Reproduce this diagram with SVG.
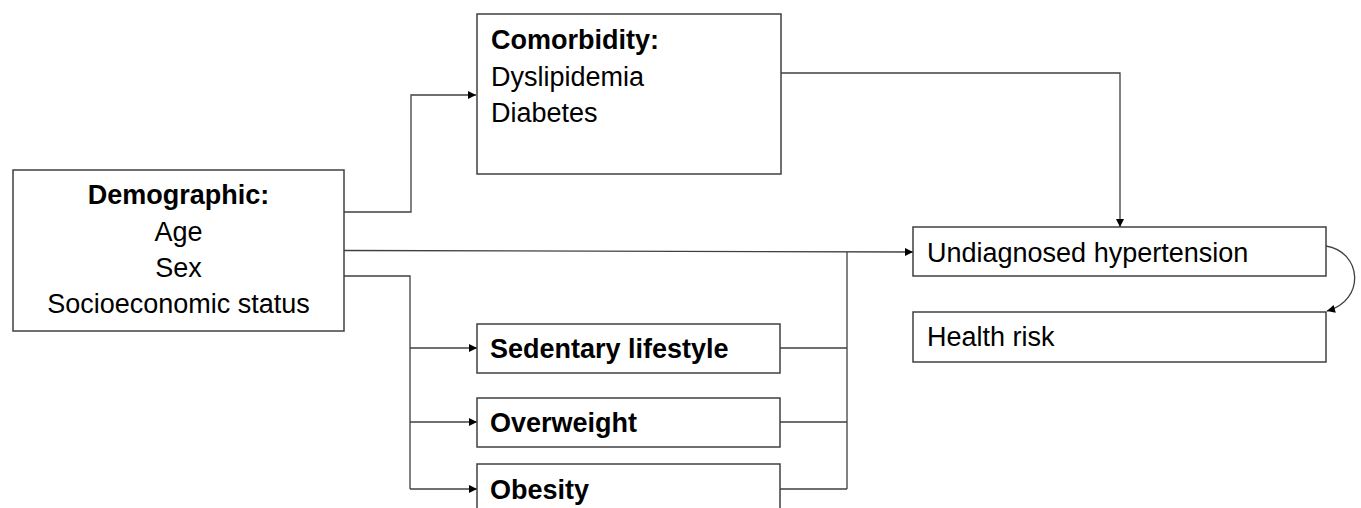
<svg xmlns="http://www.w3.org/2000/svg" width="1361" height="508" viewBox="0 0 1361 508">
<style>
.box{fill:#fff;stroke:#404040;stroke-width:1.5}
.t{font-family:"Liberation Sans",Arial,sans-serif;font-size:27px;fill:#000}
.b{font-weight:bold}
.c{fill:none;stroke:#404040;stroke-width:1.3}
</style>
<defs>
<marker id="ah" viewBox="0 0 10 10" refX="10" refY="5" markerWidth="11" markerHeight="8" markerUnits="userSpaceOnUse" orient="auto">
<path d="M0,0 L10,5 L0,10 z" fill="#000"/>
</marker>
</defs>
<rect width="1361" height="508" fill="#fff"/>
<g id="connectors">
<path class="c" d="M344,212 H411 V95 H476" marker-end="url(#ah)"/>
<path class="c" d="M344,250.5 L913,252" marker-end="url(#ah)"/>
<path class="c" d="M781,73 H1120 V227" marker-end="url(#ah)"/>
<path class="c" d="M342,276 H410 V489"/>
<path class="c" d="M410,348 H477" marker-end="url(#ah)"/>
<path class="c" d="M410,422 H477" marker-end="url(#ah)"/>
<path class="c" d="M410,489 H477" marker-end="url(#ah)"/>
<path class="c" d="M780,348 H847 M780,422 H847 M780,489 H847 M847,252 V489"/>
<path class="c" d="M1326,246 C1362,252 1366,300 1327,311" marker-end="url(#ah)"/>
</g>
<g id="demographic">
<rect class="box" x="13" y="170" width="331" height="161"/>
<text class="t b" x="178.5" y="204" text-anchor="middle">Demographic:</text>
<text class="t" x="178.5" y="240.5" text-anchor="middle">Age</text>
<text class="t" x="178.5" y="277" text-anchor="middle">Sex</text>
<text class="t" x="178.5" y="313" text-anchor="middle">Socioeconomic status</text>
</g>
<g id="comorbidity">
<rect class="box" x="477" y="14" width="304" height="160"/>
<text class="t b" x="491" y="49">Comorbidity:</text>
<text class="t" x="491" y="86">Dyslipidemia</text>
<text class="t" x="491" y="122">Diabetes</text>
</g>
<g id="undiagnosed">
<rect class="box" x="913" y="227" width="413" height="49"/>
<text class="t" x="927" y="262">Undiagnosed hypertension</text>
</g>
<g id="health">
<rect class="box" x="913" y="312" width="413" height="50"/>
<text class="t" x="927" y="346">Health risk</text>
</g>
<g id="sedentary">
<rect class="box" x="477" y="324" width="303" height="49"/>
<text class="t b" x="490" y="358">Sedentary lifestyle</text>
</g>
<g id="overweight">
<rect class="box" x="477" y="398" width="303" height="49"/>
<text class="t b" x="490" y="432">Overweight</text>
</g>
<g id="obesity">
<rect class="box" x="477" y="464" width="303" height="60"/>
<text class="t b" x="490" y="499">Obesity</text>
</g>
</svg>
